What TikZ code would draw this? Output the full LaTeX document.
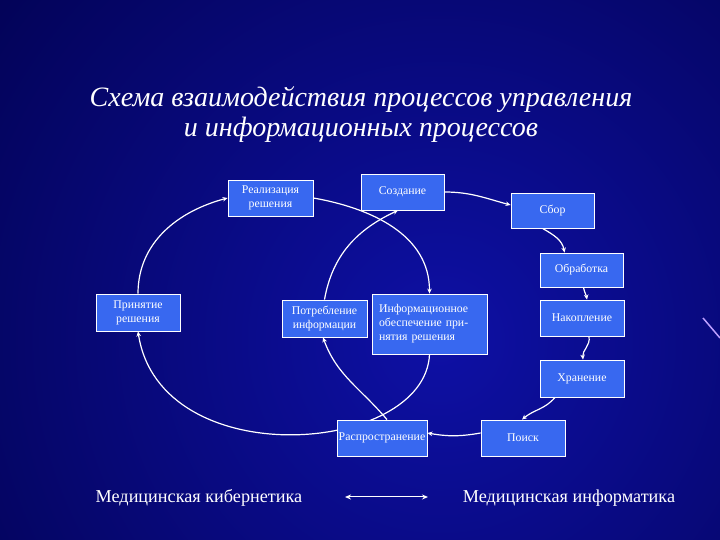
\documentclass[tikz,border=0pt]{standalone}
\usepackage{fontspec}
\setmainfont{Liberation Serif}
\usetikzlibrary{arrows.meta}
\pgfdeclarelayer{bgl}
\pgfdeclarelayer{edges}
\pgfsetlayers{bgl,edges,main}
\definecolor{boxblue}{RGB}{56,104,240}
\definecolor{bginner}{RGB}{14,16,165}
\definecolor{bgouter}{RGB}{2,2,82}
\definecolor{streak}{RGB}{190,160,255}
\begin{document}
\begin{tikzpicture}[x=1pt,y=1pt,
  pbox/.style={draw=white, line width=0.8pt, fill=boxblue, text=white,
    font=\fontsize{11.8}{14}\selectfont, align=center, inner sep=1pt},
  conn/.style={draw=white, line width=1.2pt, -{Stealth[length=5pt,width=4.5pt]}},
  title/.style={text=white, font=\itshape\fontsize{28}{34}\selectfont, anchor=base, inner sep=0pt},
  foot/.style={text=white, font=\fontsize{18.2}{22}\selectfont, anchor=base, inner sep=0pt}
]
\useasboundingbox (0,0) rectangle (720,540);
\begin{pgfonlayer}{bgl}
  \clip (0,0) rectangle (720,540);
  \fill[bgouter] (0,0) rectangle (720,540);
  \shade[inner color=bginner, outer color=bgouter] (440,200) circle (600);
  \draw[streak, line width=1.5pt] (703,222) -- (720,202);
\end{pgfonlayer}

% title
\node[title] (t1) at (361,433) {Схема взаимодействия процессов управления};
\node[title] (t2) at (361,403) {и информационных процессов};

% boxes
\node[pbox, minimum width=85pt, minimum height=36pt] (real) at (270.5,342) {Реализация\\решения};
\node[pbox, minimum width=83pt, minimum height=36pt] (sozd) at (402.5,348) {Создание};
\node[pbox, minimum width=83pt, minimum height=35pt] (sbor) at (552.5,329.5) {Сбор};
\node[pbox, minimum width=83pt, minimum height=34pt] (obr) at (581.5,270) {Обработка};
\node[pbox, minimum width=84pt, minimum height=36pt] (nak) at (582,222) {Накопление};
\node[pbox, minimum width=84pt, minimum height=37pt] (hran) at (582,161.5) {Хранение};
\node[pbox, text width=101pt, inner sep=7pt, minimum height=60pt, align=left] (inf) at (429.5,216) {Информационное\\обеспечение при-\\нятия решения};
\node[pbox, minimum width=84pt, minimum height=37pt] (prin) at (138,227.5) {Принятие\\решения};
\node[pbox, minimum width=85pt, minimum height=37pt] (potr) at (324.5,221.5) {Потребление\\информации};
\node[pbox, minimum width=90pt, minimum height=36pt] (rasp) at (382,102) {Распространение};
\node[pbox, minimum width=84pt, minimum height=36pt] (poisk) at (523,102) {Поиск};

% connectors
\begin{pgfonlayer}{edges}
  \draw[conn] (prin.north) to[out=90,in=195] (real.west);
  \draw[conn] (real.east) to[out=-10,in=90] (inf.north);
  \draw[conn] (sozd.east) to[out=0,in=165] ([yshift=5.5pt]sbor.west);
  \draw[conn] ([xshift=-10pt]sbor.south) to[out=-30,in=100] ([xshift=-17pt]obr.north);
  \draw[conn] ([xshift=2pt]obr.south) to[out=-80,in=100] ([xshift=5pt]nak.north);
  \draw[conn] ([xshift=7pt]nak.south) to[out=-80,in=95] ([xshift=1pt]hran.north);
  \draw[conn] ([xshift=-27pt]hran.south) to[out=-130,in=40] ([xshift=-1pt]poisk.north);
  \draw[conn] ([yshift=5pt]poisk.west) to[out=190,in=-10] ([yshift=5pt]rasp.east);
  \draw[conn] ([xshift=5pt]rasp.north) to[out=130,in=-70] ([xshift=-1.5pt]potr.south);
  \draw[conn] (potr.north) to[out=80,in=205] ([xshift=-4.5pt]sozd.south);
  \draw[conn] (inf.south) .. controls (425,85) and (160,65) .. (prin.south);
\end{pgfonlayer}

% footer
\node[foot] (mk) at (199,37) {Медицинская кибернетика};
\node[foot] (mi) at (569,37) {Медицинская информатика};
\coordinate (al) at (345,43);
\coordinate (ar) at (428,43);
\draw[white, line width=1pt, {Stealth[length=6pt,width=5pt]}-{Stealth[length=6pt,width=5pt]}] (al) -- (ar);
\end{tikzpicture}
\end{document}
